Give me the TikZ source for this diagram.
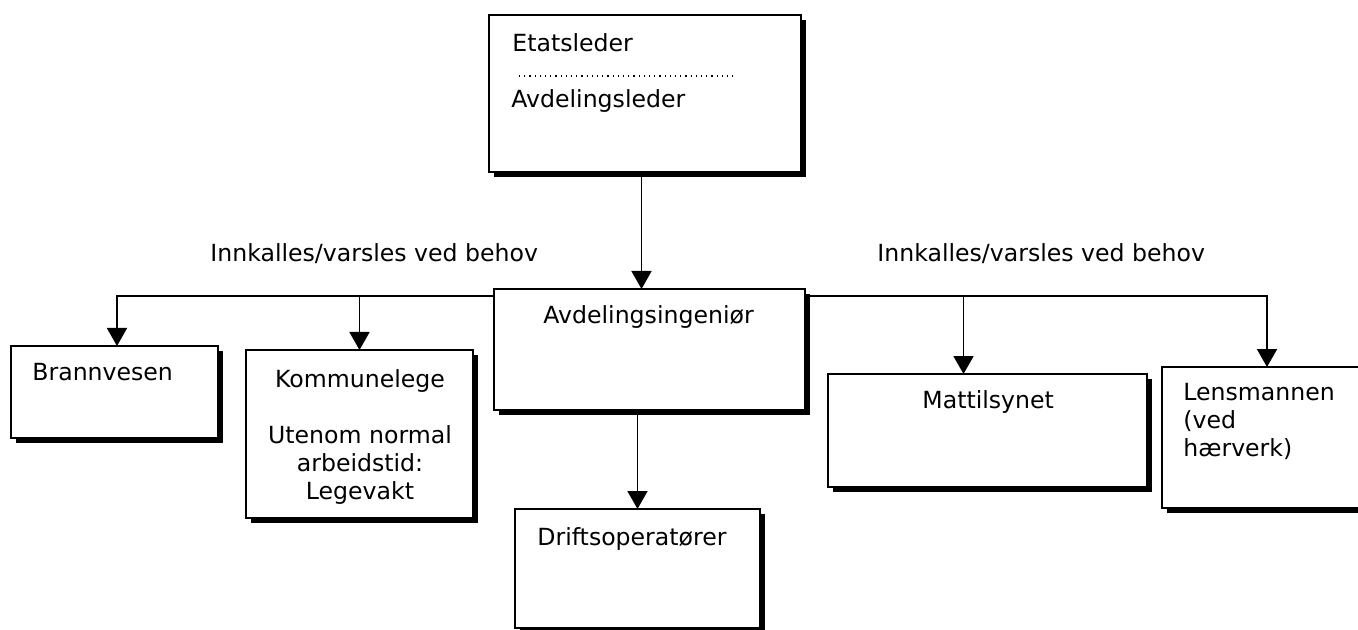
\documentclass[tikz,border=0pt]{standalone}
\usepackage{fontspec}
\setmainfont{DejaVu Sans}
\usetikzlibrary{shadows,arrows.meta}

\tikzset{
  boks/.style={draw, line width=1pt, fill=white, anchor=north west, inner sep=0pt, outer sep=0pt,
    drop shadow={shadow xshift=2.5pt, shadow yshift=-2.5pt, fill=black, opacity=1}},
  tekst/.style={anchor=base west, inner sep=0pt, font=\fontsize{11.8}{14}\selectfont},
  pil/.style={line width=0.9pt, -{Triangle[length=9pt,width=10pt]}}
}

\begin{document}
\begin{tikzpicture}[x=0.5pt, y=-0.5pt]
    \useasboundingbox (0,0) rectangle (1358,630);

    % boksene
    \node[boks, minimum width=156pt, minimum height=78.5pt] (leder) at (489,15) {};
    \node[boks, minimum width=155.5pt, minimum height=60.5pt] (ingenior) at (494,289) {};
    \node[boks, minimum width=122.5pt, minimum height=59.5pt] (drift) at (515,509) {};
    \node[boks, minimum width=103.5pt, minimum height=46pt] (brann) at (11,346) {};
    \node[boks, minimum width=113.5pt, minimum height=84pt] (kommune) at (246,350) {};
    \node[boks, minimum width=159.5pt, minimum height=56.5pt] (mat) at (828,374) {};
    \node[boks, minimum width=105pt, minimum height=70.5pt] (lens) at (1162,367) {};

    % tekst (base = siste linje ved flere linjer)
    \node[tekst] (etat) at (512,52) {Etatsleder};
    \draw[dotted, line width=0.6pt] (519,76) -- (737,76);
    \node[tekst] (avdleder) at (511,108) {Avdelingsleder};
    \node[tekst] (ing) at (543,323) {Avdelingsingeniør};
    \node[tekst] (drifttxt) at (537,545) {Driftsoperatører};
    \node[tekst] (branntxt) at (32,380) {Brannvesen};
    \node[tekst, anchor=base, align=center] (komtxt) at (360,499) {Kommunelege\\[14pt]Utenom normal\\arbeidstid:\\Legevakt};
    \node[tekst] (mattxt) at (922,408) {Mattilsynet};
    \node[tekst, align=left] (lenstxt) at (1183,456) {Lensmannen\\(ved\\hærverk)};
    \node[tekst] (varselv) at (210,262) {Innkalles/varsles ved behov};
    \node[tekst] (varselh) at (877,262) {Innkalles/varsles ved behov};

    % piler
    \coordinate (busv) at ([yshift=-3.5pt]ingenior.north west);
    \coordinate (bush) at ([yshift=-3.5pt]ingenior.north east);
    \draw[pil] (leder.south -| ingenior.north) ++(-4pt,0) coordinate (ut) -- (ut |- ingenior.north);
    \draw[pil] (drift.north |- ingenior.south) -- (drift.north);
    \draw[pil] (busv) -| ([xshift=1.25pt]brann.north);
    \draw[pil] (kommune.north |- busv) -- (kommune.north);
    \draw[pil] (bush) -| (lens.north);
    \draw[pil] ([xshift=-12pt]mat.north |- bush) -- ([xshift=-12pt]mat.north);
\end{tikzpicture}
\end{document}
